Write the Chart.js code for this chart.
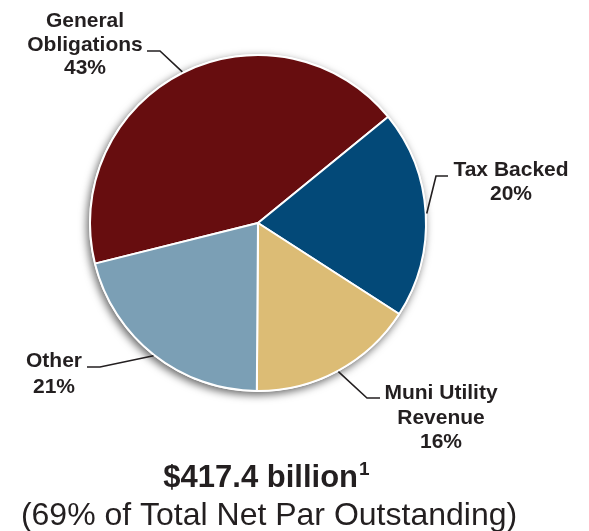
<!DOCTYPE html>
<html>
<head>
<meta charset="utf-8">
<script src="https://cdn.jsdelivr.net/npm/chart.js@4.4.1/dist/chart.umd.min.js"></script>
<style>
  html, body { margin: 0; padding: 0; background: #fff; }
  #wrap { position: relative; width: 589px; height: 531px; }
</style>
</head>
<body>
<div id="wrap"><canvas id="sectorChart" width="589" height="531"></canvas></div>
<script>
// Sector mix of the public finance book
const sectors = ['General Obligations', 'Tax Backed', 'Muni Utility Revenue', 'Other'];
const labelLines = [['General', 'Obligations'], ['Tax Backed'], ['Muni Utility', 'Revenue'], ['Other']];
const sharePct = [43, 20, 16, 21];
const sliceColors = ['#670d0f', '#034978', '#dcbc75', '#7b9fb5'];

const totalLabel = '$417.4 billion';
const totalNote = '1';
const subLabel = '(69% of Total Net Par Outstanding)';

const INK = '#231f20';
const FONT = '"Liberation Sans", Arial, Helvetica, sans-serif';

// where each callout sits: text centre, first baseline, elbow and end of the leader
const calloutLayout = [
  { x: 85,  y: 27,  lh: 23.5, elbow: [160, 51],  end: [147, 51] },
  { x: 511, y: 176, lh: 24,   elbow: [436, 176], end: [448, 176] },
  { x: 441, y: 399, lh: 24.5, elbow: [367, 398], end: [380, 398] },
  { x: 54,  y: 367, lh: 25.5, elbow: [100, 367], end: [87, 367] }
];

// soft drop shadow under the whole pie
const pieShadow = {
  id: 'pieShadow',
  beforeDatasetsDraw(chart) {
    const arc = chart.getDatasetMeta(0).data[0];
    if (!arc) return;
    const { x, y, outerRadius } = arc.getProps(['x', 'y', 'outerRadius'], true);
    const ctx = chart.ctx;
    ctx.save();
    ctx.shadowColor = 'rgba(0,0,0,0.6)';
    ctx.shadowBlur = 8;
    ctx.shadowOffsetX = -2;
    ctx.shadowOffsetY = 3;
    ctx.fillStyle = '#fff';
    ctx.beginPath();
    ctx.arc(x, y, outerRadius + 1, 0, Math.PI * 2);
    ctx.fill();
    ctx.restore();
  }
};

// leader lines and bold sector labels
const callouts = {
  id: 'callouts',
  afterDatasetsDraw(chart) {
    const ctx = chart.ctx;
    const arcs = chart.getDatasetMeta(0).data;
    ctx.save();
    ctx.strokeStyle = INK;
    ctx.fillStyle = INK;
    ctx.lineWidth = 1.6;
    ctx.font = 'bold 21px ' + FONT;
    ctx.textAlign = 'center';
    ctx.textBaseline = 'alphabetic';
    arcs.forEach((arc, i) => {
      const p = arc.getProps(['x', 'y', 'startAngle', 'endAngle', 'outerRadius'], true);
      const mid = (p.startAngle + p.endAngle) / 2;
      const r = p.outerRadius + 1;
      const c = calloutLayout[i];
      ctx.beginPath();
      ctx.moveTo(p.x + Math.cos(mid) * r, p.y + Math.sin(mid) * r);
      ctx.lineTo(c.elbow[0], c.elbow[1]);
      ctx.lineTo(c.end[0], c.end[1]);
      ctx.stroke();
      const lines = labelLines[i].concat(sharePct[i] + '%');
      lines.forEach((t, k) => ctx.fillText(t, c.x, c.y + k * c.lh));
    });
    ctx.restore();
  }
};

// total and footnote marker under the pie
const footer = {
  id: 'footer',
  afterDraw(chart) {
    const ctx = chart.ctx;
    ctx.save();
    ctx.fillStyle = INK;
    ctx.textBaseline = 'alphabetic';
    ctx.textAlign = 'left';
    ctx.font = 'bold 31px ' + FONT;
    const mainW = ctx.measureText(totalLabel).width;
    ctx.font = 'bold 19px ' + FONT;
    const noteW = ctx.measureText(totalNote).width;
    const x0 = 266.5 - (mainW + 1 + noteW) / 2;
    ctx.font = 'bold 31px ' + FONT;
    ctx.fillText(totalLabel, x0, 487);
    ctx.font = 'bold 19px ' + FONT;
    ctx.fillText(totalNote, x0 + mainW + 1, 475);
    ctx.textAlign = 'center';
    ctx.font = '32px ' + FONT;
    ctx.fillText(subLabel, 269, 525);
    ctx.restore();
  }
};

new Chart(document.getElementById('sectorChart'), {
  type: 'pie',
  data: {
    labels: sectors,
    datasets: [{
      data: sharePct,
      backgroundColor: sliceColors,
      borderColor: '#ffffff',
      borderWidth: 2
    }]
  },
  options: {
    responsive: false,
    animation: false,
    rotation: -104,
    radius: 168,
    layout: { padding: { left: 89, top: 54, right: 162, bottom: 139 } },
    plugins: {
      legend: { display: false },
      tooltip: { enabled: false }
    }
  },
  plugins: [pieShadow, callouts, footer]
});
</script>
</body>
</html>
